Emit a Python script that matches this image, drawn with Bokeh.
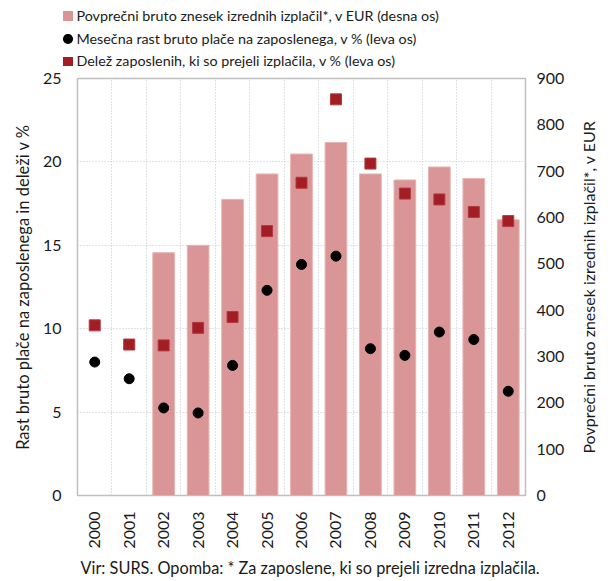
import math
import numpy as np
from bokeh.plotting import figure
from bokeh.layouts import column, row
from bokeh.models import (LinearAxis, Range1d, FixedTicker, Title, Div)
from bokeh.core.properties import value
from bokeh.embed import file_html
from bokeh.resources import INLINE

# ---- data ----
years = ["2000", "2001", "2002", "2003", "2004", "2005", "2006",
         "2007", "2008", "2009", "2010", "2011", "2012"]
avg_bonus_eur = [np.nan, np.nan, 524, 540, 639, 694, 737, 762, 694, 681, 709, 684, 595]
wage_growth = [8.0, 7.0, 5.25, 4.95, 7.8, 12.3, 13.85, 14.35, 8.8, 8.4, 9.8, 9.35, 6.25]
share_recipients = [10.2, 9.05, 9.0, 10.05, 10.7, 15.85, 18.75, 23.75, 19.9, 18.1, 17.75, 17.0, 16.45]
left_ticks = [0, 5, 10, 15, 20, 25]
right_ticks = [0, 100, 200, 300, 400, 500, 600, 700, 800, 900]
grid_ticks = [5, 10, 15, 20]

legend_labels = ["Povprečni bruto znesek izrednih izplačil*, v EUR (desna os)",
                 "Mesečna rast bruto plače na zaposlenega, v % (leva os)",
                 "Delež zaposlenih, ki so prejeli izplačila, v % (leva os)"]
left_title = "Rast bruto plače na zaposlenega in deleži v %"
right_title = "Povprečni bruto znesek izrednih izplačil*, v EUR"
footnote = "Vir: SURS. Opomba: * Za zaposlene, ki so prejeli izredna izplačila."

FONT = "Lato"
TXT = "#1a1a1a"
BAR = "#da9696"
SQ = "#a31d24"
legend_colors = [BAR, "black", SQ]
legend_round = ["0", "50%", "0"]

W = 608
H = 581
LEG_H = 68
RW = 28          # strip for the right-hand axis title
TOP = 10
BOTTOM = 83

# ---------------- legend strip (top) ----------------
rows_html = []
for i, (lab, col, rad) in enumerate(zip(legend_labels, legend_colors, legend_round)):
    c = 16 + 22.8 * i
    rows_html.append(
        f'<div style="position:absolute;left:63px;top:{c - 10:.1f}px;height:20px;'
        f'display:flex;align-items:center;white-space:nowrap;">'
        f'<span style="display:inline-block;width:9.5px;height:9.5px;background:{col};'
        f'border-radius:{rad};margin-right:4px;"></span>'
        f'<span>{lab}</span></div>')
legend_html = (f'<div style="position:relative;width:{W}px;height:{LEG_H}px;'
               f'font-family:{FONT};font-size:14.3px;color:{TXT};">'
               + "".join(rows_html) + '</div>')
legend_div = Div(text=legend_html, width=W, height=LEG_H, margin=(0, 0, 0, 0))

# ---------------- main chart ----------------
p = figure(x_range=years, y_range=Range1d(0, 25), width=W - RW, height=H - LEG_H,
           output_backend="svg", toolbar_location=None,
           min_border_left=77, min_border_right=83 - RW, min_border_top=TOP,
           min_border_bottom=BOTTOM)
p.extra_y_ranges = {"eur": Range1d(0, 900)}
p.outline_line_color = "#bfbfbf"
p.outline_line_width = 1.5

p.vbar(x=years, top=avg_bonus_eur, width=0.63, y_range_name="eur",
       fill_color=BAR, line_color="#e7b3b3", line_width=1)
p.scatter(x=years, y=wage_growth, marker="circle", size=10,
          fill_color="black", line_color="black")
p.scatter(x=years, y=share_recipients, marker="square", size=11,
          fill_color=SQ, line_color="#b03a40", line_width=1)

# grids
p.ygrid.ticker = FixedTicker(ticks=grid_ticks)
p.xgrid.ticker = FixedTicker(ticks=list(range(1, len(years))))
for g in (p.xgrid, p.ygrid):
    g.grid_line_color = "#c4c4c4"
    g.grid_line_dash = "1 2"
    g.grid_line_width = 1

# left axis
ya = p.yaxis[0]
ya.ticker = FixedTicker(ticks=left_ticks)
ya.axis_label = left_title
ya.axis_label_standoff = 7
ya.major_label_standoff = 16

# right axis (title drawn in side strip)
ra = LinearAxis(y_range_name="eur", ticker=FixedTicker(ticks=right_ticks))
ra.major_label_standoff = 11
p.add_layout(ra, "right")

# x axis
xa = p.xaxis[0]
xa.major_label_orientation = math.pi / 2
xa.major_label_standoff = 16

for ax in (ya, ra, xa):
    ax.axis_line_color = None
    ax.major_tick_line_color = None
    ax.minor_tick_line_color = None
    ax.major_tick_out = 0
    ax.major_tick_in = 0
    ax.major_label_text_font = FONT
    ax.major_label_text_font_size = "16px"
    ax.major_label_text_color = TXT
    ax.axis_label_text_font = FONT
    ax.axis_label_text_font_size = "16.5px"
    ax.axis_label_text_font_style = "normal"
    ax.axis_label_text_color = TXT

# footnote
foot = Title(text=footnote, align="left", offset=3, standoff=9,
             text_font=FONT, text_font_size="16.3px", text_font_style="normal",
             text_color=TXT)
p.add_layout(foot, "below")

# ---------------- right axis title strip ----------------
rf = figure(width=RW, height=H - LEG_H, x_range=Range1d(0, RW), y_range=Range1d(0, 1),
            output_backend="svg", toolbar_location=None,
            min_border_left=0, min_border_right=0, min_border_top=TOP,
            min_border_bottom=BOTTOM)
rf.axis.visible = False
rf.grid.visible = False
rf.outline_line_color = None
rf.text(x=[8], y=[0.5], text=[right_title], angle=math.pi / 2,
        text_font=value(FONT), text_font_size="16px", text_color=TXT,
        text_align="center", text_baseline="middle")

layout = column(legend_div, row(p, rf, spacing=0), spacing=0)
open("out.html", "w").write(file_html(layout, INLINE))
